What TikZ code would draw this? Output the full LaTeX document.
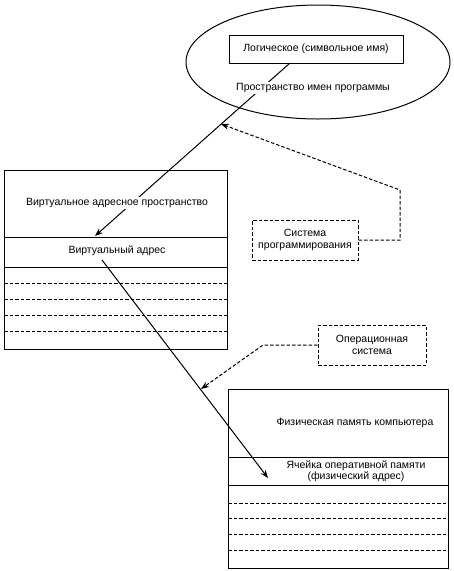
\documentclass[tikz,border=0pt]{standalone}
\usepackage{fontspec}
\setmainfont{Liberation Sans}
\usetikzlibrary{shapes.geometric,arrows.meta}
\begin{document}
\begin{tikzpicture}[x=1pt,y=-1pt,
  ln/.style={line width=1pt},
  dsh/.style={line width=1pt, dash pattern=on 3.5pt off 2pt},
  txt/.style={font=\fontsize{10.5}{12}\selectfont, inner sep=1pt, align=center},
  lbl/.style={txt, fill=white},
  arr/.style={-{Stealth[length=8pt,width=6pt]}}
]
\useasboundingbox[fill=white] (0,0) rectangle (454,571);
% ellipse and logical name
\node[draw, ln, ellipse, minimum width=264pt, minimum height=114pt, inner sep=0pt] (ell) at (318,62) {};
\node[draw, ln, txt, minimum width=174pt, minimum height=28pt] (logic) at (316,49) {Логическое (символьное имя)};
% virtual box
\node[draw, ln, minimum width=223pt, minimum height=179pt, inner sep=0pt] (vbox) at (115.5,259.5) {};
\draw[ln] (4,237) -- (227,237);
\draw[ln] (4,267) -- (227,267);
\foreach \yy in {283,299,315,331} \draw[dsh] (4,\yy) -- (227,\yy);
% physical box
\node[draw, ln, minimum width=220pt, minimum height=179pt, inner sep=0pt] (pbox) at (338,478.5) {};
\draw[ln] (228,457) -- (448,457);
\draw[ln] (228,485) -- (448,485);
\foreach \yy in {503,518,534,550} \draw[dsh] (228,\yy) -- (448,\yy);
% dashed boxes
\node[draw, dsh, txt, minimum width=106pt, minimum height=40pt] (sp) at (305,240) {Система\\программирования};
\node[draw, dsh, txt, minimum width=108pt, minimum height=40pt] (os) at (372,345) {Операционная\\система};
% main arrows
\coordinate (a1s) at (290,63);
\coordinate (a1e) at (95,236);
\coordinate (a1m) at (221,124);
\draw[ln, arr] (a1s) -- (a1e);
\coordinate (a2s) at (102,260);
\coordinate (a2e) at (268,478);
\coordinate (a2m) at (201,389);
\draw[ln, arr] (a2s) -- (a2e);
% dashed arrows
\coordinate (c1) at (400,240);
\coordinate (c2) at (400,190);
\draw[dsh, arr] (sp.east) -- (c1) -- (c2) -- (a1m);
\coordinate (c3) at (263,345);
\draw[dsh, arr] (os.west) -- (c3) -- (a2m);
% labels
\node[lbl] (pname) at (313,88) {Пространство имен программы};
\node[lbl] (vas) at (117,203) {Виртуальное адресное пространство};
\node[txt] (va) at (117,251) {Виртуальный адрес};
\node[txt] (pm) at (355,423) {Физическая память компьютера};
\node[txt, font=\fontsize{10.5}{11.5}\selectfont] (cell) at (356,471) {Ячейка оперативной памяти\\(физический адрес)};
\end{tikzpicture}
\end{document}
